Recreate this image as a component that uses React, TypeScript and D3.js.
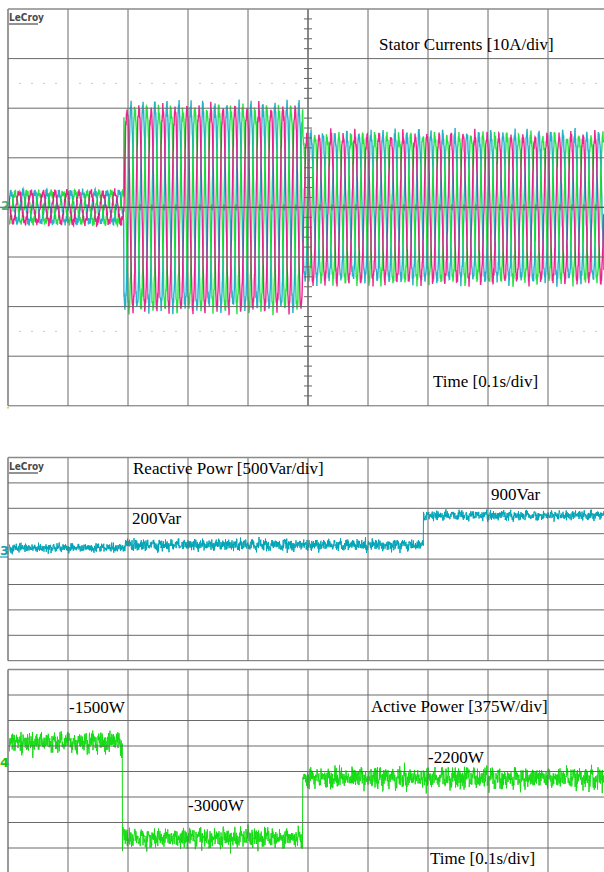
import React from 'react';
import * as d3 from 'd3';

// ---------------- Data ----------------
// Stator currents, 10 A/div, 0.1 s/div
const phaseNames = ['ia', 'ib', 'ic'];
const phaseColors = ['#00a3c2', '#00dc1e', '#e6007a'];
const phaseShiftDeg = [0, -120, 120];
const currentStepTimes = [0, 0.193, 0.4915, 1.0]; // s
const currentAmplitudes = [3.0, 20.2, 14.6]; // A peak per segment
const lineFrequency = 50; // Hz

// Reactive power, 500 Var/div
const reactiveStepTimes = [0, 0.193, 0.6925, 1.0];
const reactiveLevels = [180, 238, 818]; // Var
const reactiveNoise = [120, 160, 135]; // Var (band half-width)

// Active power, 375 W/div
const activeStepTimes = [0, 0.1905, 0.491, 1.0];
const activeLevels = [-1500, -2910, -2030]; // W
const activeNoise = [210, 215, 220]; // W

// Hand-typed noise offsets (-1..1) used for the trace texture
const NOISE = [0.3, -0.5, 0.8, -0.2, -0.9, 0.4, 0.1, -0.6, 0.7, -0.3, 0.5, -0.8, 0.2, 0.9, -0.4, -0.1, 0.6, -0.7, 0.0, 0.4,
  -0.5, 0.8, -0.9, 0.3, -0.2, 0.7, -0.6, 0.1, 0.5, -0.4, -0.8, 0.9, 0.2, -0.3, 0.6, -0.1, -0.7, 0.4, 0.8, -0.5,
  0.0, -0.9, 0.3, 0.7, -0.2, 0.5, -0.6, 0.1, -0.4, 0.9, -0.8, 0.2, 0.6, -0.3, -0.7, 0.4, 0.0, 0.8, -0.5, -0.1,
  0.7, -0.9, 0.3, 0.5, -0.6, 0.2, -0.4, 0.9, -0.2, -0.8, 0.6, 0.1, -0.5, 0.4, -0.7, 0.8, -0.3, 0.0, 0.5, -0.9,
  0.7, -0.1, 0.3, -0.6, 0.9, -0.4, 0.2, -0.8, 0.6, -0.2, 0.4, -0.7, 0.1, 0.8, -0.5, 0.3, -0.9, 0.6, -0.3, 0.2];

// Text labels
const topTitle = 'Stator Currents [10A/div]';
const timeLabel = 'Time [0.1s/div]';
const reactiveTitle = 'Reactive Powr [500Var/div]';
const activeTitle = 'Active Power [375W/div]';
const reactiveValueLabels = ['200Var', '900Var'];
const activeValueLabels = ['-1500W', '-3000W', '-2200W'];

// ---------------- Layout ----------------
const W = 604;
const H = 872;
const X0 = 8;
const DIVW = 60;
const TOP = { y0: 9, div: 49.6 };
const RP = { y0: 457.5, div: 25.4 };
const AP = { y0: 669.5, div: 25.5 };
const REACT_TOP = 1960; // Var at top edge of reactive panel
const ACT_TOP = -430; // W at top edge of active panel

const x = d3.scaleLinear().domain([0, 1]).range([X0, X0 + 10 * DIVW]);
const yCur = d3.scaleLinear().domain([-40, 40]).range([TOP.y0 + 8 * TOP.div, TOP.y0]);
const yReact = d3.scaleLinear().domain([REACT_TOP - 4000, REACT_TOP]).range([RP.y0 + 8 * RP.div, RP.y0]);
const yAct = d3.scaleLinear().domain([ACT_TOP - 3000, ACT_TOP]).range([AP.y0 + 8 * AP.div, AP.y0]);

const N = NOISE.length;
const segIndex = (t: number, steps: number[]) => {
  for (let k = 0; k < steps.length - 1; k++) if (t < steps[k + 1]) return k;
  return steps.length - 2;
};

function currentSeries(p: number) {
  const pts: [number, number][] = [];
  const dt = 0.0004;
  const ph = (phaseShiftDeg[p] * Math.PI) / 180;
  for (let i = 0; i * dt <= 0.9933; i++) {
    const t = i * dt;
    const k = segIndex(t, currentStepTimes);
    const a = currentAmplitudes[k] * (1 + 0.06 * NOISE[(i * 11 + p * 31) % N]);
    const v = a * Math.sin(2 * Math.PI * lineFrequency * t + ph) + 0.8 * NOISE[(i * 17 + p * 7) % 97];
    pts.push([t, v]);
  }
  return pts;
}

function powerSeries(steps: number[], levels: number[], noise: number[], seed: number) {
  const pts: [number, number][] = [];
  const dt = 1 / 2400;
  for (let i = 0; i * dt <= 0.9933; i++) {
    const t = i * dt;
    const k = segIndex(t, steps);
    const n1 = NOISE[(i * 7 + seed) % N];
    const n2 = NOISE[(i * 29 + seed * 3) % 97];
    const n3 = NOISE[(i * 3 + seed) % 89];
    const n4 = NOISE[Math.floor(i / 9 + seed) % 83];
    const v = levels[k] + noise[k] * (0.5 * n1 + 0.25 * n2 + 0.3 * n3 * Math.abs(n1) + 0.25 * n4);
    pts.push([t, v]);
  }
  return pts;
}

function Grid({ y0, div }: { y0: number; div: number }) {
  const v = d3.range(0, 11);
  const h = d3.range(0, 9);
  return (
    <g>
      {v.map((i) => (
        <line key={'v' + i} x1={X0 + i * DIVW} x2={X0 + i * DIVW} y1={y0} y2={y0 + 8 * div}
          stroke={i === 0 ? '#9a9a9a' : '#6a6a6a'} strokeWidth={i === 0 ? 2 : 1} />
      ))}
      {h.map((j) => (
        <line key={'h' + j} x1={X0} x2={X0 + 10 * DIVW} y1={y0 + j * div} y2={y0 + j * div}
          stroke={j === 0 ? '#8a8a8a' : '#6a6a6a'} strokeWidth={j === 0 ? 1.6 : 1} />
      ))}
    </g>
  );
}

function Logo({ xx, yy }: { xx: number; yy: number }) {
  return (
    <g>
      <text x={xx} y={yy} fontFamily="DejaVu Sans" fontWeight="bold" fontSize={11} fill="#4a4a4a"
        textLength={35} lengthAdjust="spacingAndGlyphs">LeCroy</text>
      <line x1={xx} x2={xx + 29} y1={yy + 3} y2={yy + 3} stroke="#4a4a4a" strokeWidth={1.2} />
    </g>
  );
}

export default function App() {
  const lineCur = d3.line<[number, number]>().x((d) => x(d[0])).y((d) => yCur(d[1]));
  const lineReact = d3.line<[number, number]>().x((d) => x(d[0])).y((d) => yReact(d[1]));
  const lineAct = d3.line<[number, number]>().x((d) => x(d[0])).y((d) => yAct(d[1]));

  const cy = yCur(0);
  const cx = x(0.5);
  const vertTicks = d3.range(1, 40).filter((j) => j % 5 !== 0).map((j) => TOP.y0 + (j * TOP.div) / 5);
  const horTicks = d3.range(1, 50).filter((j) => j % 5 !== 0).map((j) => X0 + (j * DIVW) / 5);
  const dotRows = [TOP.y0 + 1.5 * TOP.div, TOP.y0 + 6.5 * TOP.div];
  const dotXs = d3.range(1, 50).filter((j) => j % 5 !== 0).map((j) => X0 + (j * DIVW) / 5);

  const font = { fontFamily: 'Liberation Serif, Times New Roman, serif', fontSize: 17, fill: '#000' };

  return (
    <svg width={W} height={H} style={{ position: 'absolute', left: 0, top: 0, background: '#fff' }}>
      <defs>
        <clipPath id="cTop"><rect x={X0 + 1} y={TOP.y0} width={600} height={8 * TOP.div} /></clipPath>
        <clipPath id="cBot"><rect x={X0 + 1} y={RP.y0} width={600} height={420} /></clipPath>
      </defs>
      <rect x={0} y={0} width={W} height={H} fill="#fff" />

      {/* ---- Top panel: stator currents ---- */}
      <g clipPath="url(#cTop)">
        {phaseNames.map((nm, p) => (
          <path key={nm} d={lineCur(currentSeries(p)) || ''} fill="none" stroke={phaseColors[p]}
            strokeWidth={1.4} strokeOpacity={0.85} />
        ))}
      </g>
      <Grid y0={TOP.y0} div={TOP.div} />
      {dotRows.map((yy, r) => dotXs.map((xx, i) => (
        <rect key={'d' + r + '-' + i} x={xx - 0.5} y={yy - 0.5} width={1} height={1} fill="#999" />
      )))}
      <line x1={X0} x2={X0 + 600} y1={cy} y2={cy} stroke="#555" strokeWidth={1.2} />
      <line x1={cx} x2={cx} y1={TOP.y0} y2={TOP.y0 + 8 * TOP.div} stroke="#777" strokeWidth={1.4} />
      {vertTicks.map((yy, i) => (
        <line key={'vt' + i} x1={cx - 4} x2={cx + 4} y1={yy} y2={yy} stroke="#666" strokeWidth={1} />
      ))}
      {horTicks.map((xx, i) => (
        <line key={'ht' + i} x1={xx} x2={xx} y1={cy - 3} y2={cy + 3} stroke="#666" strokeWidth={1} />
      ))}
      <Logo xx={9} yy={21} />
      <line x1={0} x2={8} y1={cy} y2={cy} stroke="#4a8f8a" strokeWidth={1.5} />
      <text x={1} y={cy + 3} fontFamily="DejaVu Sans" fontWeight="bold" fontSize={13} fill="#3aa66a" opacity={0.9}>2</text>
      <rect x={7} y={407} width={2} height={1.5} fill="#e8e000" />
      <text x={379} y={50} {...font}>{topTitle}</text>
      <text x={433} y={387} {...font}>{timeLabel}</text>

      {/* ---- Bottom panel: reactive & active power ---- */}
      <g clipPath="url(#cBot)">
        <path d={lineReact(powerSeries(reactiveStepTimes, reactiveLevels, reactiveNoise, 3)) || ''} fill="none"
          stroke="#00a5b8" strokeWidth={1} />
        <path d={lineAct(powerSeries(activeStepTimes, activeLevels, activeNoise, 11)) || ''} fill="none"
          stroke="#14dc14" strokeWidth={1} />
      </g>
      <Grid y0={RP.y0} div={RP.div} />
      <Grid y0={AP.y0} div={AP.div} />
      <Logo xx={9} yy={470} />
      <text x={0} y={555} fontFamily="DejaVu Sans" fontWeight="bold" fontSize={13} fill="#1aa0b0">3</text>
      <line x1={0} x2={8} y1={557} y2={557} stroke="#1aa0b0" strokeWidth={1.2} />
      <text x={0} y={767} fontFamily="DejaVu Sans" fontWeight="bold" fontSize={13} fill="#14c814">4</text>

      <text x={133} y={474} {...font}>{reactiveTitle}</text>
      <text x={132} y={524} {...font}>{reactiveValueLabels[0]}</text>
      <text x={491} y={500} {...font}>{reactiveValueLabels[1]}</text>

      <text x={69} y={713} {...font}>{activeValueLabels[0]}</text>
      <text x={371} y={712} {...font}>{activeTitle}</text>
      <text x={188} y={811} {...font}>{activeValueLabels[1]}</text>
      <text x={428} y={763} {...font}>{activeValueLabels[2]}</text>
      <text x={430} y={864} {...font}>{timeLabel}</text>
    </svg>
  );
}
